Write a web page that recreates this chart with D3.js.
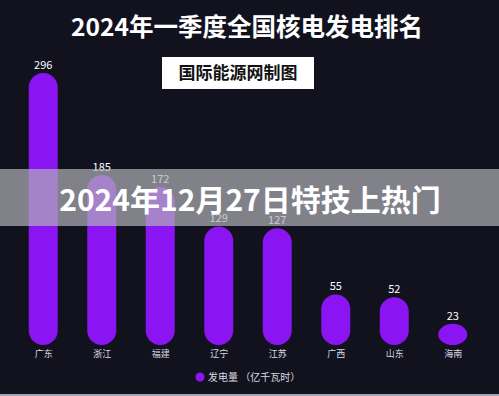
<!DOCTYPE html>
<html><head><meta charset="utf-8">
<script src="https://cdn.jsdelivr.net/npm/d3@7"></script>
<style>html,body{margin:0;padding:0;background:#12121f;overflow:hidden}</style>
</head><body>
<svg id="c" width="499" height="396"></svg>
<script>
const categories = ["广东","浙江","福建","辽宁","江苏","广西","山东","海南"];
const values = [296,185,172,129,127,55,52,23];
const title = "2024年一季度全国核电发电排名";
const sourceLabel = "国际能源网制图";
const legendLabel = "发电量 （亿千瓦时）";
const overlayText = "2024年12月27日特技上热门";

const W = 499, H = 396;
const font = "'Noto Sans CJK SC','Noto Sans',sans-serif";
const svg = d3.select("#c");
svg.append("rect").attr("width", W).attr("height", H).attr("fill", "#12121f");

const x = d3.scalePoint().domain(categories).range([14, 482]).padding(0.5);
const y = d3.scaleLinear().domain([0, 300]).range([345, 69.3]);
const bw = 29;

svg.append("text").attr("x", 247).attr("y", 36).attr("text-anchor", "middle")
  .attr("font-family", font).attr("font-weight", 700).attr("font-size", 24.5)
  .attr("fill", "#fff").text(title);

svg.append("rect").attr("x", 162).attr("y", 57).attr("width", 152).attr("height", 32).attr("fill", "#fff");
svg.append("text").attr("x", 238).attr("y", 79).attr("text-anchor", "middle")
  .attr("font-family", font).attr("font-weight", 700).attr("font-size", 17)
  .attr("fill", "#111").text(sourceLabel);

const g = svg.append("g");
g.selectAll("rect.bar").data(values).join("rect").attr("class", "bar")
  .attr("x", (d, i) => x(categories[i]) - bw / 2)
  .attr("y", d => y(d))
  .attr("width", bw)
  .attr("height", d => y(0) - y(d))
  .attr("rx", bw / 2)
  .attr("fill", "#8b14f3");

g.selectAll("text.val").data(values).join("text").attr("class", "val")
  .attr("x", (d, i) => x(categories[i]))
  .attr("y", d => y(d) - 4)
  .attr("text-anchor", "middle")
  .attr("font-family", font).attr("font-size", 11)
  .attr("fill", "#fff").text(d => d);

const xAxis = d3.axisBottom(x).tickSize(0).tickPadding(6);
const ax = svg.append("g").attr("transform", `translate(0,${y(0)})`).call(xAxis);
ax.select(".domain").remove();
ax.selectAll("text").attr("font-family", font).attr("font-size", 9).attr("fill", "#d8d8e0");

svg.append("circle").attr("cx", 200).attr("cy", 377).attr("r", 4.5).attr("fill", "#8b14f3");
svg.append("text").attr("x", 208).attr("y", 381).attr("font-family", font).attr("font-size", 10)
  .attr("fill", "#d8d8e0").text(legendLabel);

svg.append("rect").attr("x", 0).attr("y", 169).attr("width", W).attr("height", 57)
  .attr("fill", "#b0b0b8").attr("fill-opacity", 0.7);
svg.append("text").attr("x", 250).attr("y", 211).attr("text-anchor", "middle")
  .attr("font-family", font).attr("font-weight", 700).attr("font-size", 30)
  .attr("fill", "#fff").text(overlayText);

svg.append("rect").attr("x", 0).attr("y", 394).attr("width", W).attr("height", 2).attr("fill", "#a0a3b4");
</script>
</body></html>
